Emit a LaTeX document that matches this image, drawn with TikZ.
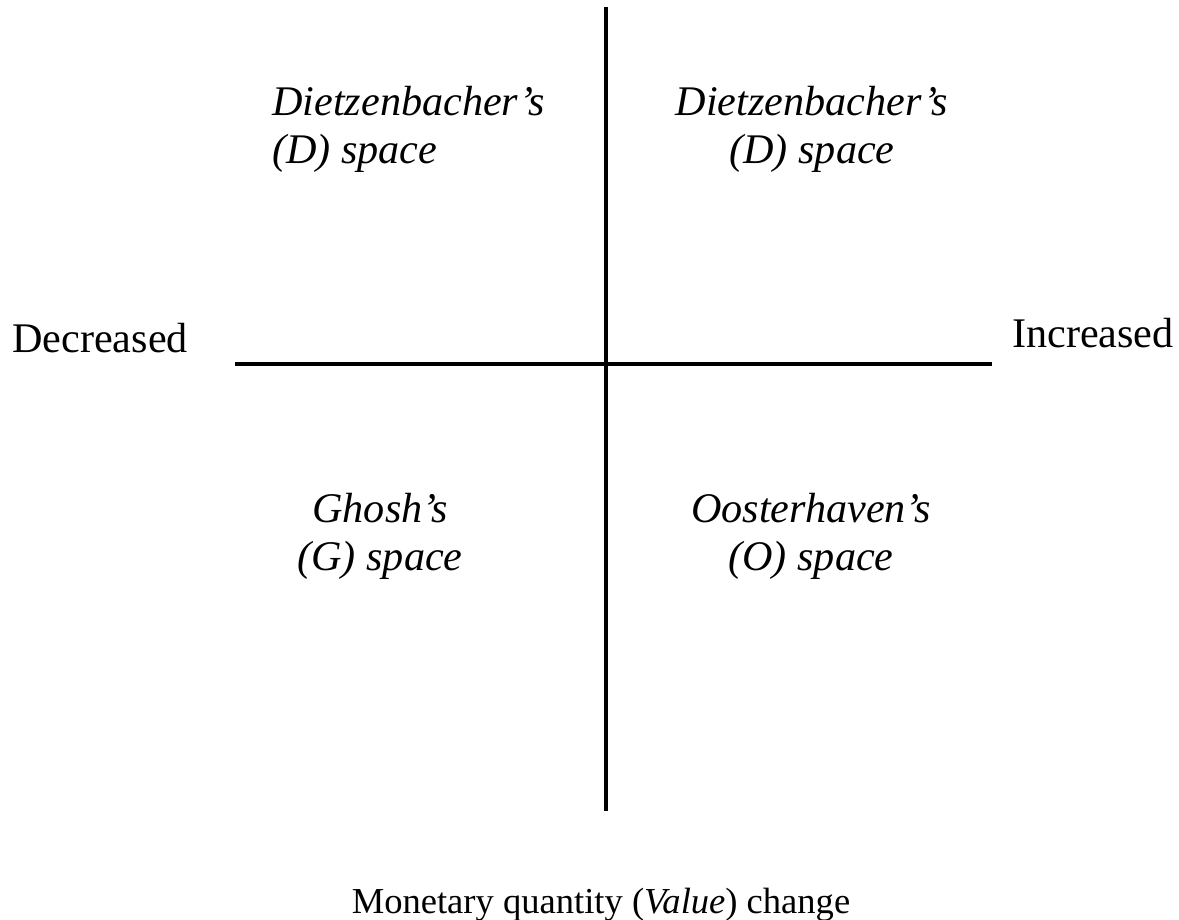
\documentclass[tikz,border=0pt]{standalone}
\usepackage{fontspec}
\setmainfont{Liberation Serif}
\usetikzlibrary{positioning}

\begin{document}
\begin{tikzpicture}[
        x=0.025cm, y=-0.025cm,
        axis/.style={line width=2.2pt, color=black},
        space/.style={inner sep=0pt, font=\fontsize{30}{34}\selectfont\itshape},
        side/.style={inner sep=0pt, font=\fontsize{30}{34}\selectfont}
      ]
        \useasboundingbox (0,0) rectangle (1179,920);
        % axes
        \coordinate (top) at (606,7);
        \coordinate (bottom) at (606,811);
        \coordinate (left) at (235,364);
        \coordinate (right) at (992,364);
        \draw[axis] (top) -- (bottom);
        \draw[axis] (left) -- (right);
        % quadrant labels
        \node[space, anchor=west, align=left] (dleft) at (272,129) {Dietzenbacher's\\(D) space};
        \node[space, align=center] (dright) at (812,129) {Dietzenbacher's\\(D) space};
        \node[space, align=center] (ghosh) at (380,536) {Ghosh's\\(G) space};
        \node[space, align=center] (ooster) at (811,536) {Oosterhaven's\\(O) space};
        % side labels
        \node[side, anchor=base west] (decr) at (12,352) {Decreased};
        \node[side, anchor=base east] (incr) at (1174,347) {Increased};
        \node[side, anchor=base, font=\fontsize{26}{30}\selectfont] (value) at (601,913) {Monetary quantity (\textit{Value}) change};
      \end{tikzpicture}
\end{document}
